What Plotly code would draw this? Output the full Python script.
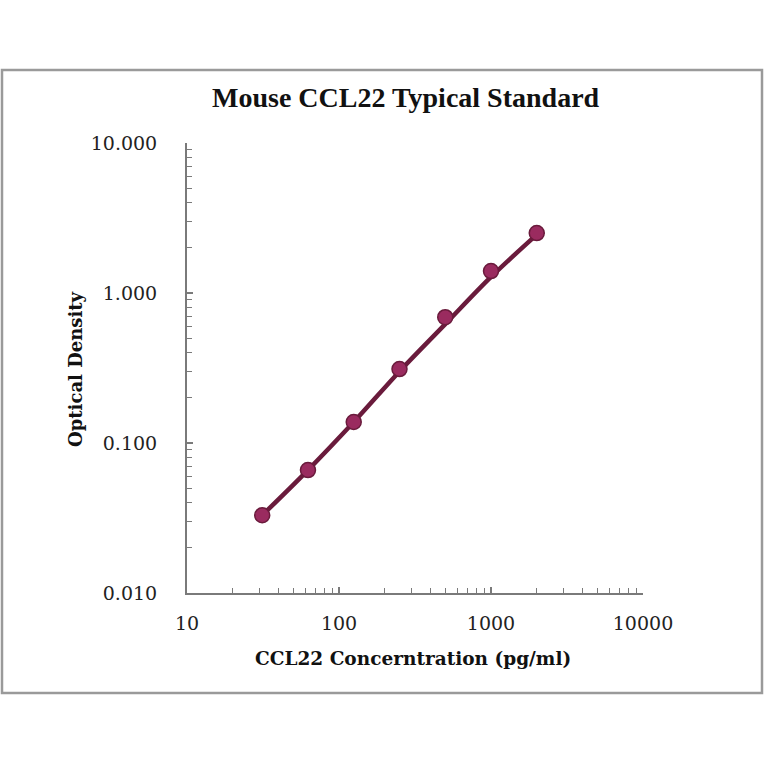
import plotly.graph_objects as go

concentration = [31.25, 62.5, 125, 250, 500, 1000, 2000]
od_measured = [0.033, 0.066, 0.138, 0.311, 0.69, 1.40, 2.51]
od_fit = [0.033, 0.066, 0.138, 0.300, 0.62, 1.28, 2.45]

y_tickvals = [0.01, 0.1, 1, 10]
y_ticktext = ["0.010", "0.100", "1.000", "10.000"]
x_tickvals = [10, 100, 1000, 10000]
x_ticktext = ["10", "100", "1000", "10000"]

title_text = "Mouse CCL22 Typical Standard"
x_title = "CCL22 Concerntration (pg/ml)"
y_title = "Optical Density"

minor_vals = [m * 10 ** e for e in range(-3, 5) for m in range(2, 10)]

serif_title = "Liberation Serif, Times New Roman, serif"
serif_wide = "DejaVu Serif, serif"
line_col = "#6a1b3c"
marker_col = "#9a2b5f"
axis_col = "#7a7a7a"

fig = go.Figure()
fig.add_trace(go.Scatter(
    x=concentration, y=od_fit, mode="lines",
    line=dict(color=line_col, width=4.5, shape="spline"),
    hoverinfo="skip", showlegend=False,
))
fig.add_trace(go.Scatter(
    x=concentration, y=od_measured, mode="markers",
    marker=dict(size=15, color=marker_col, line=dict(color=line_col, width=1.5)),
    showlegend=False,
))

L, R, T, B = 187, 643, 143, 593
W = H = 764
pw, ph = R - L, B - T

def px(xp):
    return (xp - L) / pw

def py(yp):
    return (B - yp) / ph

fig.update_layout(
    width=W, height=H,
    margin=dict(l=L, r=W - R, t=T, b=H - B, pad=0),
    paper_bgcolor="white", plot_bgcolor="white",
    font=dict(family=serif_wide, color="#111"),
    showlegend=False,
    xaxis=dict(
        type="log", range=[1, 4], showgrid=False, zeroline=False,
        showline=True, linecolor=axis_col, linewidth=2,
        tickmode="array", tickvals=x_tickvals, ticktext=x_ticktext,
        ticks="inside", ticklen=6, tickwidth=1.5, tickcolor=axis_col,
        tickfont=dict(size=19, family=serif_wide, color="#222"),
        ticklabelstandoff=12,
        minor=dict(tickmode="array", tickvals=minor_vals, ticks="inside",
                   ticklen=5, tickwidth=1.2, tickcolor=axis_col, showgrid=False),
    ),
    yaxis=dict(
        type="log", range=[-2, 1], showgrid=False, zeroline=False,
        showline=True, linecolor=axis_col, linewidth=2,
        tickmode="array", tickvals=y_tickvals, ticktext=y_ticktext,
        ticks="inside", ticklen=6, tickwidth=1.5, tickcolor=axis_col,
        tickfont=dict(size=19, family=serif_wide, color="#222"),
        ticklabelstandoff=24,
        minor=dict(tickmode="array", tickvals=minor_vals, ticks="inside",
                   ticklen=5, tickwidth=1.2, tickcolor=axis_col, showgrid=False),
    ),
    shapes=[dict(
        type="rect", xref="paper", yref="paper",
        x0=px(2), x1=px(762), y0=py(693), y1=py(70),
        line=dict(color="#9a9a9a", width=2.5), fillcolor="rgba(0,0,0,0)", layer="below",
    )],
    annotations=[
        dict(text="<b>" + title_text + "</b>", xref="paper", yref="paper",
             x=px(406), y=py(97), showarrow=False, xanchor="center", yanchor="middle",
             font=dict(size=28, family=serif_title, color="#111")),
        dict(text="<b>" + x_title + "</b>", xref="paper", yref="paper",
             x=px(413), y=py(658), showarrow=False, xanchor="center", yanchor="middle",
             font=dict(size=18.5, family=serif_wide, color="#111")),
        dict(text="<b>" + y_title + "</b>", xref="paper", yref="paper",
             x=px(75), y=py(369), showarrow=False, xanchor="center", yanchor="middle",
             textangle=-90, font=dict(size=18, family=serif_wide, color="#111")),
    ],
)

fig.write_html(
    "out.html",
    config={"displayModeBar": False},
    post_script="document.body.style.margin='0';document.body.style.overflow='hidden';",
)
